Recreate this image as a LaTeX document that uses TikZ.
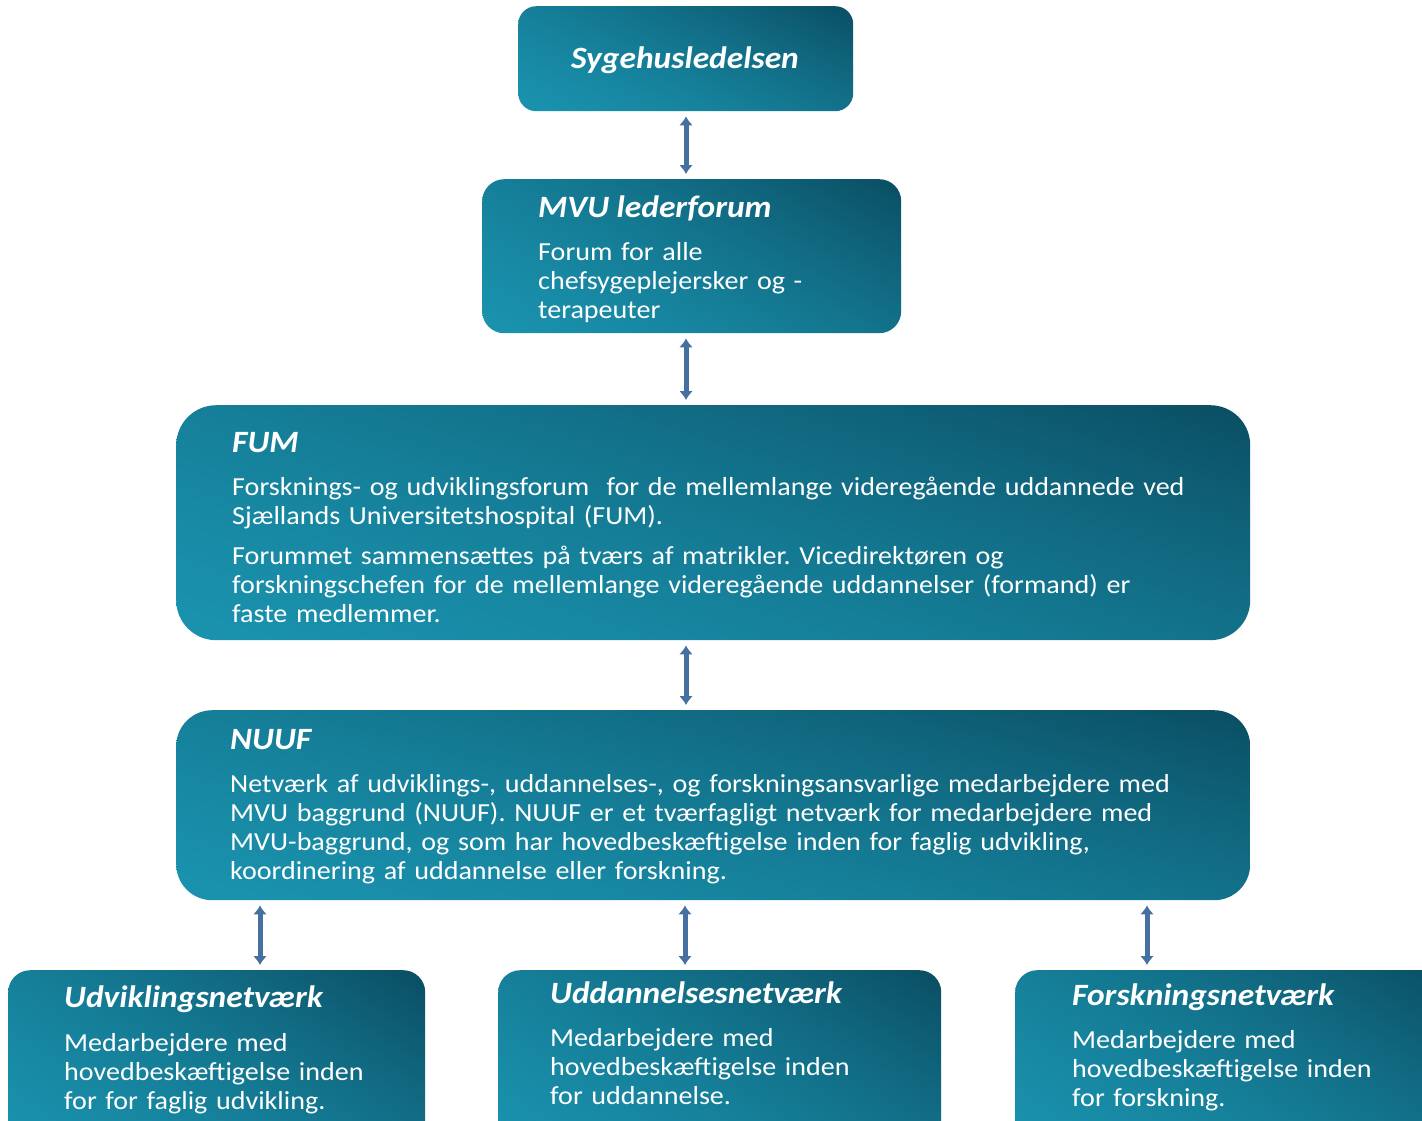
\documentclass[tikz,border=0pt]{standalone}
\usepackage{fontspec}
\setmainfont{Carlito}[FakeStretch=1.08]
\usetikzlibrary{arrows.meta,calc}
\frenchspacing

\definecolor{linkblue}{HTML}{4670A0}

% diagonal teal gradient: light at lower left, dark at upper right
\pgfdeclarefunctionalshading{boxshade}{\pgfpoint{0bp}{0bp}}{\pgfpoint{100bp}{100bp}}{}{
  exch 1.2 mul exch 0.8 mul add 50 sub 100 div
  dup 0 lt {pop 0} if dup 1 gt {pop 1} if
  dup dup mul add 2 div
  dup -0.063 mul 0.102 add exch
  dup -0.274 mul 0.576 add exch
  -0.302 mul 0.686 add
}

\tikzset{
  orgbox/.style={rectangle, inner sep=0pt, anchor=north west,
    shade, shading=boxshade},
  headtext/.style={text=white, inner sep=0pt, anchor=base west,
    font=\fontsize{31}{36}\selectfont\bfseries\itshape},
  bodytext/.style={text=white, inner sep=0pt, anchor=base west,
    align=left, text width=1000pt,
    font=\fontsize{26}{29}\selectfont},
  link/.style={{Latex[length=9pt,width=14pt]}-{Latex[length=9pt,width=14pt]},
    line width=5pt, draw=linkblue, shorten <=5pt, shorten >=5pt}
}

\begin{document}
\begin{tikzpicture}[x=1pt,y=-1pt]
\useasboundingbox (0,0) rectangle (1422,1120);
\fill[white] (0,0) rectangle (1422,1120);
\clip (0,0) rectangle (1422,1120);

% boxes
\node[orgbox, rounded corners=18pt, minimum width=335pt, minimum height=105pt] (syg) at (518,6) {};
\node[orgbox, rounded corners=22pt, minimum width=419pt, minimum height=154pt] (mvu) at (482,179) {};
\node[orgbox, rounded corners=40pt, minimum width=1074pt, minimum height=235pt] (fum) at (176,405) {};
\node[orgbox, rounded corners=36pt, minimum width=1074pt, minimum height=190pt] (nuuf) at (176,710) {};
\node[orgbox, rounded corners=22pt, minimum width=417pt, minimum height=180pt] (udv) at (8,970) {};
\node[orgbox, rounded corners=22pt, minimum width=443pt, minimum height=180pt] (udd) at (498,970) {};
\node[orgbox, rounded corners=22pt, minimum width=440pt, minimum height=180pt] (fors) at (1015,970) {};

% texts
\node[headtext, anchor=base] (sygT) at (685,68) {Sygehusledelsen};

\node[headtext] (mvuT) at (538,217) {MVU lederforum};
\node[bodytext] (mvuB) at (538,260) {Forum for alle\\chefsygeplejersker og -\\terapeuter};

\node[headtext] (fumT) at (232,452) {FUM};
\node[bodytext] (fumB1) at (232,495) {Forsknings- og udviklingsforum\ \ for de mellemlange videregående uddannede ved\\Sjællands Universitetshospital (FUM).};
\node[bodytext] (fumB2) at (232,564) {Forummet sammensættes på tværs af matrikler. Vicedirektøren og\\forskningschefen for de mellemlange videregående uddannelser (formand) er\\faste medlemmer.};

\node[headtext] (nuufT) at (230,749) {NUUF};
\node[bodytext] (nuufB) at (230,792) {Netværk af udviklings-, uddannelses-, og forskningsansvarlige medarbejdere med\\MVU baggrund (NUUF). NUUF er et tværfagligt netværk for medarbejdere med\\MVU-baggrund, og som har hovedbeskæftigelse inden for faglig udvikling,\\koordinering af uddannelse eller forskning.};

\node[headtext] (udvT) at (64,1007) {Udviklingsnetværk};
\node[bodytext] (udvB) at (64,1051) {Medarbejdere med\\hovedbeskæftigelse inden\\for for faglig udvikling.};

\node[headtext] (uddT) at (550,1003) {Uddannelsesnetværk};
\node[bodytext] (uddB) at (550,1046) {Medarbejdere med\\hovedbeskæftigelse inden\\for uddannelse.};

\node[headtext] (forsT) at (1072,1005) {Forskningsnetværk};
\node[bodytext] (forsB) at (1072,1048) {Medarbejdere med\\hovedbeskæftigelse inden\\for forskning.};

% connectors
\coordinate (colA) at (686,0);
\coordinate (colU) at (260,0);
\coordinate (colD) at (685,0);
\coordinate (colF) at (1147,0);
\draw[link] (syg.south -| colA) -- (mvu.north -| colA);
\draw[link] (mvu.south -| colA) -- (fum.north -| colA);
\draw[link] (fum.south -| colA) -- (nuuf.north -| colA);
\draw[link] (nuuf.south -| colU) -- (udv.north -| colU);
\draw[link] (nuuf.south -| colD) -- (udd.north -| colD);
\draw[link] (nuuf.south -| colF) -- (fors.north -| colF);
\end{tikzpicture}
\end{document}
